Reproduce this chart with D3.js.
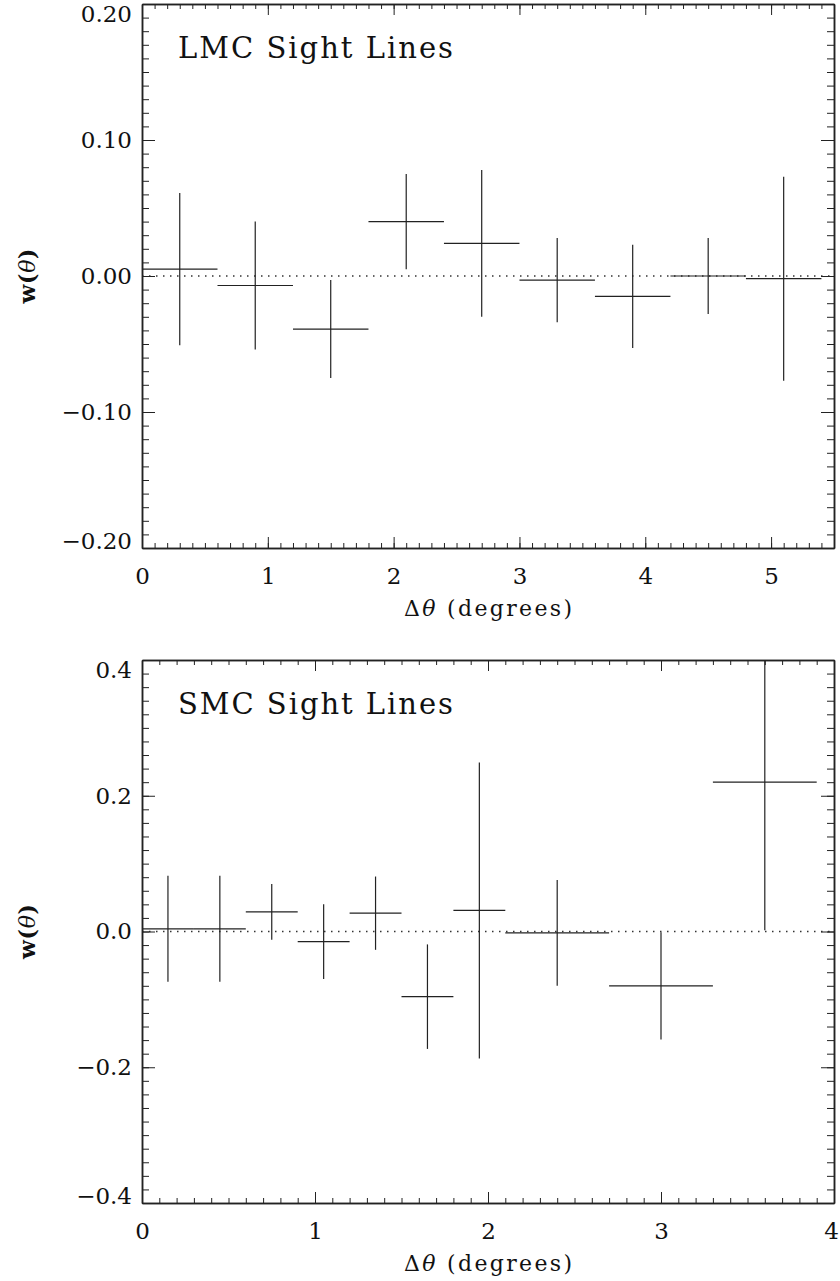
<!DOCTYPE html>
<head>
	<meta charset="utf-8">
	<script src="https://d3js.org/d3.v7.min.js"></script>
	<style>
		body {
			margin: 0;
			background: #fff;
		}
		.axis path, .axis line {
			stroke: #222;
		}
		.axis path {
			stroke-width: 1.5;
		}
	</style>
</head>
<body>

<svg width="840" height="1281" id="chart" font-family="DejaVu Serif, serif"></svg>

<script>

	// LMC panel: bin centre, bin half width, w(theta), error
	var lmcX = [0.3, 0.9, 1.5, 2.1, 2.7, 3.3, 3.9, 4.5, 5.1];
	var lmcXerr = [0.3, 0.3, 0.3, 0.3, 0.3, 0.3, 0.3, 0.3, 0.3];
	var lmcW = [0.005, -0.007, -0.039, 0.040, 0.024, -0.003, -0.015, 0.000, -0.002];
	var lmcErr = [0.056, 0.047, 0.036, 0.035, 0.054, 0.031, 0.038, 0.028, 0.075];
	var lmcXTicks = [0, 1, 2, 3, 4, 5];
	var lmcYTicks = [-0.2, -0.1, 0, 0.1, 0.2];

	// SMC panel
	var smcX = [0.15, 0.45, 0.75, 1.05, 1.35, 1.65, 1.95, 2.4, 3.0, 3.6];
	var smcXerr = [0.15, 0.15, 0.15, 0.15, 0.15, 0.15, 0.15, 0.3, 0.3, 0.3];
	var smcW = [0.004, 0.004, 0.029, -0.015, 0.027, -0.096, 0.031, -0.002, -0.080, 0.220];
	var smcErr = [0.078, 0.078, 0.041, 0.055, 0.054, 0.077, 0.218, 0.078, 0.079, 0.218];
	var smcXTicks = [0, 1, 2, 3, 4];
	var smcYTicks = [-0.4, -0.2, 0, 0.2, 0.4];

	var svg = d3.select("#chart");
	var serif = "DejaVu Serif, serif";

	panel({
		id: "lmc", title: "LMC Sight Lines",
		x: lmcX, xerr: lmcXerr, w: lmcW, err: lmcErr,
		xTicks: lmcXTicks, yTicks: lmcYTicks,
		xDomain: [0, 5.5], yDomain: [-0.2, 0.2],
		xMinor: 0.1, yMinor: 0.01, yFormat: d3.format(".2f"),
		left: 142, right: 834, top: 4, bottom: 548
	});

	panel({
		id: "smc", title: "SMC Sight Lines",
		x: smcX, xerr: smcXerr, w: smcW, err: smcErr,
		xTicks: smcXTicks, yTicks: smcYTicks,
		xDomain: [0, 4], yDomain: [-0.4, 0.4],
		xMinor: 0.1, yMinor: 0.02, yFormat: d3.format(".1f"),
		left: 142, right: 834, top: 660, bottom: 1203
	});

	function panel(p) {

		var x = d3.scaleLinear().domain(p.xDomain).range([p.left, p.right]);
		var y = d3.scaleLinear().domain(p.yDomain).range([p.bottom, p.top]);

		var xMinor = d3.range(0, Math.round((p.xDomain[1] - p.xDomain[0]) / p.xMinor) + 1)
			.map(i => p.xDomain[0] + i * p.xMinor);
		var yMinor = d3.range(0, Math.round((p.yDomain[1] - p.yDomain[0]) / p.yMinor) + 1)
			.map(i => p.yDomain[0] + i * p.yMinor);

		var g = svg.append("g");

		g.append("clipPath")
			.attr("id", "clip-" + p.id)
			.append("rect")
			.attr("x", p.left)
			.attr("y", p.top)
			.attr("width", p.right - p.left)
			.attr("height", p.bottom - p.top);

		// zero line
		g.append("line")
			.attr("x1", p.left)
			.attr("x2", p.right)
			.attr("y1", y(0))
			.attr("y2", y(0))
			.attr("stroke", "#333")
			.attr("stroke-width", 1.3)
			.attr("stroke-dasharray", "1.5,5.5");

		var pts = p.x.map((d, i) => ({x: d, xe: p.xerr[i], w: p.w[i], e: p.err[i]}));

		var marks = g.append("g")
			.attr("clip-path", "url(#clip-" + p.id + ")")
			.attr("stroke", "#222")
			.attr("stroke-width", 1.2);

		marks.selectAll(".hbar")
			.data(pts)
			.enter().append("line")
			.attr("class", "hbar")
			.attr("x1", d => x(d.x - d.xe))
			.attr("x2", d => x(d.x + d.xe))
			.attr("y1", d => y(d.w))
			.attr("y2", d => y(d.w));

		marks.selectAll(".vbar")
			.data(pts)
			.enter().append("line")
			.attr("class", "vbar")
			.attr("x1", d => x(d.x))
			.attr("x2", d => x(d.x))
			.attr("y1", d => y(d.w - d.e))
			.attr("y2", d => y(d.w + d.e));

		// minor ticks on all four sides
		g.append("g").attr("class", "axis")
			.attr("transform", "translate(" + p.left + ",0)")
			.call(d3.axisLeft(y).tickValues(yMinor).tickSize(-7).tickSizeOuter(0).tickFormat(""));
		g.append("g").attr("class", "axis")
			.attr("transform", "translate(" + p.right + ",0)")
			.call(d3.axisRight(y).tickValues(yMinor).tickSize(-7).tickSizeOuter(0).tickFormat(""));
		g.append("g").attr("class", "axis")
			.attr("transform", "translate(0," + p.bottom + ")")
			.call(d3.axisBottom(x).tickValues(xMinor).tickSize(-5).tickSizeOuter(0).tickFormat(""));
		g.append("g").attr("class", "axis")
			.attr("transform", "translate(0," + p.top + ")")
			.call(d3.axisTop(x).tickValues(xMinor).tickSize(-5).tickSizeOuter(0).tickFormat(""));

		// major ticks
		var yAxis = g.append("g").attr("class", "axis")
			.attr("transform", "translate(" + p.left + ",0)")
			.call(d3.axisLeft(y).tickValues(p.yTicks).tickSize(-13).tickSizeOuter(0)
				.tickPadding(10).tickFormat(p.yFormat));
		g.append("g").attr("class", "axis")
			.attr("transform", "translate(" + p.right + ",0)")
			.call(d3.axisRight(y).tickValues(p.yTicks).tickSize(-13).tickSizeOuter(0).tickFormat(""));
		var xAxis = g.append("g").attr("class", "axis")
			.attr("transform", "translate(0," + p.bottom + ")")
			.call(d3.axisBottom(x).tickValues(p.xTicks).tickSize(-11).tickSizeOuter(0)
				.tickPadding(20).tickFormat(d3.format("d")));
		g.append("g").attr("class", "axis")
			.attr("transform", "translate(0," + p.top + ")")
			.call(d3.axisTop(x).tickValues(p.xTicks).tickSize(-11).tickSizeOuter(0).tickFormat(""));

		g.selectAll(".axis")
			.attr("font-family", serif)
			.attr("font-size", 23);
		g.selectAll(".axis text").attr("fill", "#111");

		// keep the end labels inside the frame
		yAxis.selectAll(".tick text")
			.filter(d => d == p.yDomain[1]).attr("dy", "0.74em");
		yAxis.selectAll(".tick text")
			.filter(d => d == p.yDomain[0]).attr("dy", "0em");
		xAxis.selectAll(".tick text")
			.filter(d => x(d) + 8 > 840).attr("dx", -3);

		g.append("text")
			.attr("x", 178)
			.attr("y", p.top + 54)
			.attr("font-size", 29)
			.attr("fill", "#111")
			.attr("textLength", 275)
			.attr("lengthAdjust", "spacing")
			.text(p.title);

		var xt = g.append("text")
			.attr("x", (p.left + p.right) / 2)
			.attr("y", p.bottom + 68)
			.attr("text-anchor", "middle")
			.attr("font-size", 22)
			.attr("fill", "#111")
			.attr("textLength", 168)
			.attr("lengthAdjust", "spacing");
		xt.append("tspan").text("Δ");
		xt.append("tspan").attr("font-style", "italic").text("θ");
		xt.append("tspan").text(" (degrees)");

		var yt = g.append("text")
			.attr("transform", "translate(35," + (p.top + p.bottom) / 2 + ") rotate(-90)")
			.attr("text-anchor", "middle")
			.attr("font-size", 22)
			.attr("font-weight", "bold")
			.attr("fill", "#111")
			.attr("textLength", 55)
			.attr("lengthAdjust", "spacing");
		yt.append("tspan").text("w(");
		yt.append("tspan").attr("font-style", "italic").attr("font-weight", "normal").text("θ");
		yt.append("tspan").text(")");
	}

</script>
</body>
